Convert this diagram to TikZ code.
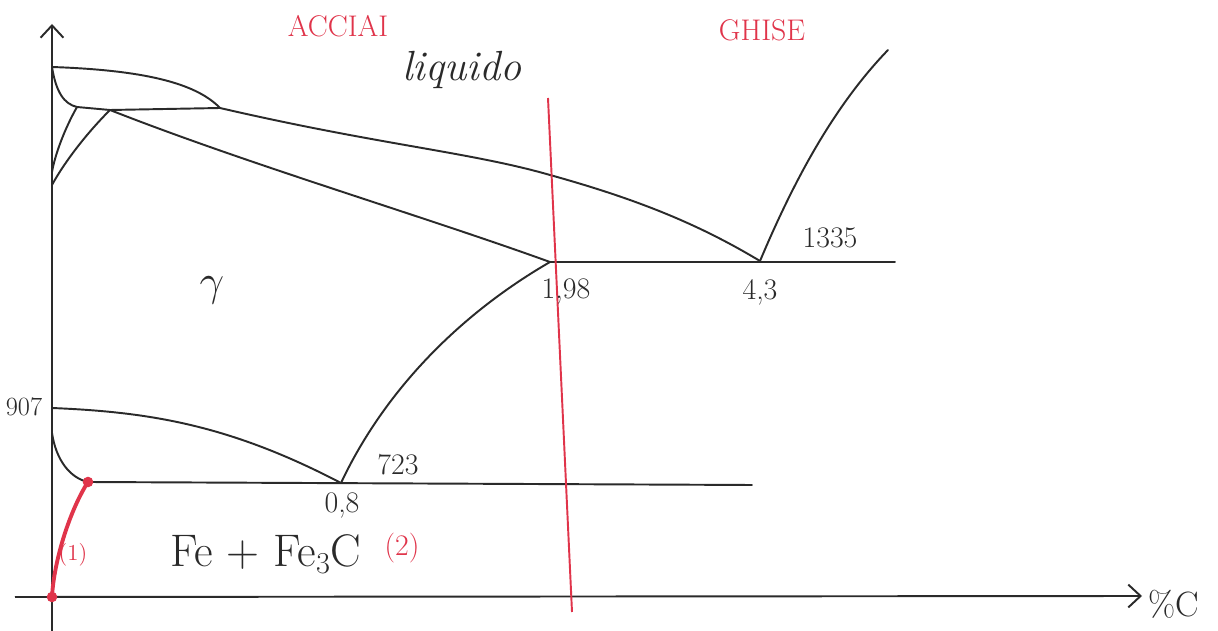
\documentclass[tikz,border=0pt]{standalone}
\usetikzlibrary{arrows.meta}
\definecolor{ink}{HTML}{2A2A2A}
\definecolor{redink}{HTML}{E0344A}
\tikzset{
  curve/.style={draw=ink, line width=1.1pt, line cap=round, line join=round},
  redcurve/.style={draw=redink, line width=2.2pt, line cap=round},
  axis/.style={draw=ink, line width=1.1pt, -{Straight Barb[length=7pt,width=13pt]}},
  lbl/.style={text=ink, inner sep=0pt, font=\fontsize{17}{19}\selectfont},
  redlbl/.style={text=redink, inner sep=0pt, font=\fontsize{17}{19}\selectfont},
  reddot/.style={fill=redink, circle, inner sep=0pt, minimum size=6pt}
}
\begin{document}
\begin{tikzpicture}[x=0.02cm,y=-0.02cm]
\useasboundingbox (0,0) rectangle (1218,631);
\fill[white] (0,0) rectangle (1218,631);
% key points
\coordinate (ytop) at (52,24);
\coordinate (ybot) at (52,631);
\coordinate (xl) at (15,597);
\coordinate (xr) at (1142,596);
\coordinate (A) at (52,67);      % melting point of Fe
\coordinate (B) at (220,108);    % peritectic end
\coordinate (P1) at (77,107);
\coordinate (P2) at (110,110);
\coordinate (N1) at (52,172);
\coordinate (N2) at (52,185);
\coordinate (E) at (550,262);    % 1.98
\coordinate (C) at (760,261);    % 4.3 eutectic
\coordinate (Ce) at (895,262);
\coordinate (Ct) at (888,50);
\coordinate (G) at (52,408);     % 907
\coordinate (G2) at (52,433);
\coordinate (Pa) at (88,482);
\coordinate (S) at (341,483);    % 0.8 eutectoid
\coordinate (Se) at (752,485);
\coordinate (O) at (52,597);
\coordinate (Rt) at (548,98);
\coordinate (Rb) at (572,612);
% axes
\draw[axis] (ybot) -- (ytop);
\draw[axis] (xl) -- (xr);
% delta lens
\draw[curve] (A) .. controls (140,70) and (195,82) .. (B);
\draw[curve] (A) .. controls (56,92) and (64,104) .. (P1) -- (P2) -- (B);
\draw[curve] (P1) .. controls (64,130) and (55,155) .. (N1);
\draw[curve] (P2) .. controls (80,140) and (60,170) .. (N2);
% liquidus
\draw[curve] (B) .. controls (380,145) and (470,152) .. (550,175) .. controls (640,200) and (700,225) .. (C);
% solidus
\draw[curve] (P2) .. controls (250,165) and (420,215) .. (E);
% eutectic line
\draw[curve] (E) -- (Ce);
% cementite liquidus
\draw[curve] (C) .. controls (790,190) and (830,110) .. (Ct);
% A3 line
\draw[curve] (G) .. controls (150,412) and (230,425) .. (S);
\draw[curve] (G) -- (G2) .. controls (56,460) and (70,478) .. (Pa);
% eutectoid line
\draw[curve] (Pa) -- (Se);
% Acm line
\draw[curve] (S) .. controls (380,400) and (450,320) .. (E);
% red vertical separator
\draw[draw=redink, line width=1.1pt] (Rt) -- (Rb);
% red curve (1)
\draw[redcurve] (Pa) .. controls (70,510) and (54,560) .. (O);
\node[reddot] (dotA) at (Pa) {};
\node[reddot] (dotB) at (O) {};
% labels
\node[redlbl] (acciai) at (338,26) {ACCIAI};
\node[redlbl] (ghise) at (762,30) {GHISE};
\node[lbl, font=\fontsize{24}{26}\selectfont\itshape] (liq) at (462,70) {liquido};
\node[lbl, font=\fontsize{26}{28}\selectfont] (gamma) at (212,290) {$\gamma$};
\node[lbl] (t1335) at (830,238) {1335};
\node[lbl] (c43) at (760,292) {4,3};
\node[lbl] (c198) at (566,292) {1,98};
\node[lbl, font=\fontsize{15}{17}\selectfont] (t907) at (24,407) {907};
\node[lbl] (t723) at (398,465) {723};
\node[lbl] (c08) at (342,506) {0,8};
\node[lbl, font=\fontsize{26}{28}\selectfont] (phase) at (266,554) {Fe + Fe$_3$C};
\node[redlbl] (two) at (402,548) {(2)};
\node[redlbl, font=\fontsize{13}{15}\selectfont] (one) at (73,555) {(1)};
\node[lbl, font=\fontsize{20}{22}\selectfont, anchor=west] (pc) at (1148,604) {\%C};
\end{tikzpicture}
\end{document}
